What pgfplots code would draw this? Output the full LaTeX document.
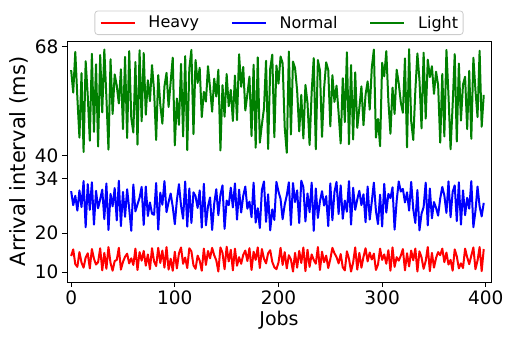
\documentclass[border=0pt]{standalone}
\usepackage{pgfplots}
\pgfplotsset{compat=1.18}
\usepackage{fontspec}
\setmainfont{DejaVu Sans}
\pgfplotsset{legend image code/.code={\draw[#1, line width=1.6pt] (0pt,0pt) -- (34pt,0pt);}}
\begin{document}
\begin{tikzpicture}
\useasboundingbox (-67pt,-55pt) rectangle (439pt,282pt);
\begin{axis}[
 scale only axis, width=424pt, height=241pt,
 at={(0pt,0pt)}, anchor=south west,
 xmin=-4, xmax=405, ymin=7.4, ymax=69.5,
 xtick={0,100,200,300,400}, ytick={10,20,34,40,68},
 tick align=outside, tick pos=left, major tick length=5pt,
 tick style={black, line width=0.8pt},
 ticklabel style={font=\fontsize{18.5}{18.5}\selectfont},
 /pgf/number format/assume math mode=true,
 xlabel={Jobs}, ylabel={Arrival interval (ms)},
 xlabel style={font=\fontsize{19}{19}\selectfont},
 ylabel style={font=\fontsize{21}{21}\selectfont},
 legend columns=3,
 legend style={at={(0.5,1)}, anchor=south, yshift=6pt, font=\fontsize{16}{16}\selectfont,
   draw=black!20, line width=0.8pt, rounded corners=3pt, inner xsep=5pt, inner ysep=5pt,
   nodes={inner sep=0pt},
   /tikz/every odd column/.append style={column sep=13pt},
   /tikz/every even column/.append style={column sep=32pt}},
 every axis plot/.append style={line width=2pt, line join=round},
 axis line style={line width=0.8pt}
]
\addplot[red] coordinates {
(0,14.1) (2,15.8) (4,12.0) (6,11.3) (8,15.1) (10,12.4) (12,11.1) (14,13.7) (16,14.8) (18,10.9)
(20,15.9) (22,13.4) (24,11.9) (26,12.5) (28,16.1) (30,10.4) (32,14.9) (34,10.8) (36,16.4) (38,12.3)
(40,10.3) (42,12.8) (44,13.1) (46,16.2) (48,10.6) (50,12.6) (52,13.9) (54,14.7) (56,12.2) (58,13.5)
(60,11.8) (62,16.0) (64,10.5) (66,15.1) (68,12.9) (70,15.4) (72,11.6) (74,14.5) (76,10.7) (78,16.1)
(80,12.7) (82,11.5) (84,16.2) (86,12.3) (88,15.5) (90,11.1) (92,16.4) (94,10.6) (96,13.4) (98,10.3)
(100,15.2) (102,10.9) (104,14.8) (106,16.3) (108,12.1) (110,13.7) (112,11.0) (114,16.1) (116,15.3) (118,11.7)
(120,10.8) (122,14.2) (124,12.9) (126,10.3) (128,16.0) (130,11.8) (132,15.4) (134,13.5) (136,16.2) (138,14.3)
(140,13.0) (142,10.1) (144,16.3) (146,14.9) (148,10.7) (150,16.5) (152,12.7) (154,15.7) (156,10.4) (158,16.0)
(160,11.6) (162,13.8) (164,12.1) (166,14.4) (168,15.5) (170,12.8) (172,16.1) (174,10.5) (176,15.2) (178,13.1)
(180,16.3) (182,11.0) (184,15.9) (186,13.4) (188,12.2) (190,14.8) (192,15.6) (194,12.6) (196,11.2) (198,10.7)
(200,12.4) (202,16.2) (204,11.8) (206,15.1) (208,10.9) (210,14.3) (212,13.2) (214,10.1) (216,14.9) (218,11.1)
(220,15.4) (222,12.3) (224,16.3) (226,10.2) (228,15.7) (230,11.3) (232,14.5) (234,13.1) (236,12.1) (238,16.4)
(240,10.5) (242,15.2) (244,12.5) (246,14.2) (248,11.0) (250,13.3) (252,16.2) (254,14.8) (256,13.8) (258,12.2)
(260,14.6) (262,11.2) (264,10.4) (266,15.3) (268,13.4) (270,10.1) (272,12.4) (274,16.3) (276,10.6) (278,14.9)
(280,11.1) (282,13.9) (284,16.1) (286,12.7) (288,15.0) (290,13.2) (292,14.7) (294,10.5) (296,11.9) (298,16.0)
(300,13.1) (302,14.5) (304,12.1) (306,15.6) (308,10.3) (310,16.3) (312,11.3) (314,13.8) (316,12.9) (318,14.2)
(320,15.9) (322,10.4) (324,14.8) (326,11.4) (328,15.5) (330,13.0) (332,16.0) (334,10.1) (336,15.3) (338,13.7)
(340,10.8) (342,12.8) (344,16.4) (346,10.2) (348,14.9) (350,11.1) (352,13.6) (354,15.1) (356,14.3) (358,16.0)
(360,12.5) (362,15.0) (364,11.9) (366,13.1) (368,10.3) (370,15.8) (372,14.0) (374,10.9) (376,12.2) (378,11.0)
(380,16.0) (382,13.8) (384,12.0) (386,14.2) (388,16.3) (390,10.7) (392,12.9) (394,16.4) (396,10.2) (398,15.9)
};
\addlegendentry{Heavy}
\addplot[blue] coordinates {
(0,30.8) (2,27.2) (4,29.6) (6,25.8) (8,31.0) (10,26.7) (12,33.4) (14,21.5) (16,32.6) (18,26.0)
(20,33.1) (22,22.2) (24,30.9) (26,26.4) (28,28.7) (30,31.2) (32,23.6) (34,32.8) (36,20.8) (38,30.1)
(40,26.9) (42,31.6) (44,23.3) (46,33.5) (48,21.8) (50,30.6) (52,24.2) (54,31.3) (56,26.3) (58,20.6)
(60,32.5) (62,25.6) (64,27.4) (66,29.1) (68,31.9) (70,22.1) (72,32.0) (74,24.4) (76,27.9) (78,25.0)
(80,24.7) (82,32.9) (84,20.9) (86,30.4) (88,27.3) (90,33.4) (92,25.4) (94,28.0) (96,30.2) (98,26.8)
(100,22.3) (102,28.5) (104,32.6) (106,27.1) (108,23.7) (110,33.3) (112,21.7) (114,31.5) (116,22.6) (118,30.5)
(120,29.5) (122,26.5) (124,31.0) (126,21.4) (128,32.7) (130,22.0) (132,26.9) (134,29.2) (136,20.8) (138,27.6)
(140,31.3) (142,24.6) (144,29.9) (146,32.3) (148,21.1) (150,28.4) (152,27.2) (154,31.7) (156,26.6) (158,32.8)
(160,23.5) (162,31.2) (164,25.3) (166,29.6) (168,32.0) (170,26.3) (172,28.1) (174,24.1) (176,33.0) (178,22.7)
(180,26.4) (182,21.3) (184,31.1) (186,33.3) (188,22.9) (190,30.0) (192,20.7) (194,26.1) (196,23.4) (198,33.2)
(200,30.7) (202,28.8) (204,23.6) (206,27.3) (208,29.7) (210,33.1) (212,22.1) (214,32.9) (216,28.0) (218,31.0)
(220,22.6) (222,33.5) (224,31.8) (226,23.0) (228,30.2) (230,25.4) (232,33.0) (234,20.6) (236,31.5) (238,23.9)
(240,28.2) (242,30.8) (244,27.1) (246,29.5) (248,21.8) (250,32.8) (252,23.3) (254,30.6) (256,33.2) (258,24.9)
(260,32.3) (262,23.7) (264,28.4) (266,25.5) (268,33.4) (270,22.2) (272,31.7) (274,26.0) (276,28.7) (278,30.9)
(280,27.2) (282,30.0) (284,22.8) (286,32.0) (288,23.5) (290,28.1) (292,33.0) (294,25.7) (296,22.3) (298,29.9)
(300,21.7) (302,32.7) (304,25.3) (306,30.1) (308,29.0) (310,31.8) (312,20.9) (314,28.3) (316,33.3) (318,30.7)
(320,31.4) (322,27.9) (324,30.5) (326,25.8) (328,33.2) (330,26.2) (332,22.6) (334,31.1) (336,20.7) (338,25.0)
(340,26.7) (342,33.0) (344,22.0) (346,31.5) (348,23.8) (350,28.0) (352,26.5) (354,24.5) (356,28.9) (358,31.9)
(360,29.7) (362,25.2) (364,33.3) (366,24.1) (368,30.6) (370,32.3) (372,23.1) (374,33.1) (376,22.2) (378,31.0)
(380,24.6) (382,29.1) (384,26.3) (386,33.4) (388,21.5) (390,25.7) (392,32.0) (394,26.9) (396,24.3) (398,27.8)
};
\addlegendentry{Normal}
\addplot[green!50!black] coordinates {
(0,62.0) (2,56.2) (4,66.7) (6,54.9) (8,44.6) (10,61.2) (12,40.9) (14,64.3) (16,55.5) (18,43.8)
(20,66.2) (22,46.1) (24,63.5) (26,42.3) (28,65.9) (30,51.1) (32,67.3) (34,55.0) (36,41.5) (38,64.8)
(40,50.7) (42,60.9) (44,58.0) (46,53.4) (48,62.2) (50,46.8) (52,65.4) (54,44.5) (56,66.9) (58,49.7)
(60,45.9) (62,64.1) (64,42.8) (66,67.1) (68,48.8) (70,66.4) (72,50.5) (74,59.4) (76,54.0) (78,63.3)
(80,56.6) (82,44.0) (84,60.7) (86,53.1) (88,48.2) (90,57.8) (92,61.3) (94,52.5) (96,59.0) (98,65.2)
(100,42.6) (102,54.7) (104,47.9) (106,63.6) (108,44.9) (110,65.6) (112,41.4) (114,62.4) (116,67.2) (118,45.5)
(120,64.6) (122,58.7) (124,62.6) (126,49.9) (128,56.4) (130,53.9) (132,63.0) (134,57.4) (136,51.3) (138,59.8)
(140,55.2) (142,62.1) (144,41.3) (146,58.1) (148,50.0) (150,61.0) (152,52.7) (154,56.9) (156,48.9) (158,60.6)
(160,49.1) (162,66.1) (164,57.7) (166,62.8) (168,51.6) (170,55.8) (172,60.3) (174,45.0) (176,63.4) (178,42.0)
(180,65.3) (182,43.3) (184,48.0) (186,52.1) (188,64.4) (190,41.7) (192,62.3) (194,66.0) (196,44.7) (198,63.2)
(200,58.5) (202,65.5) (204,63.8) (206,47.3) (208,40.7) (210,66.8) (212,45.4) (214,64.2) (216,62.5) (218,56.7)
(220,46.2) (222,55.6) (224,44.4) (226,58.2) (228,53.5) (230,42.7) (232,56.3) (234,65.1) (236,41.6) (238,64.6)
(240,61.9) (242,44.8) (244,57.3) (246,64.0) (248,62.0) (250,47.5) (252,60.7) (254,53.8) (256,58.0) (258,50.9)
(260,43.1) (262,59.9) (264,48.6) (266,66.6) (268,42.9) (270,63.3) (272,44.1) (274,61.4) (276,47.1) (278,52.2)
(280,57.8) (282,47.8) (284,55.7) (286,59.1) (288,51.8) (290,62.6) (292,67.3) (294,44.6) (296,49.4) (298,42.4)
(300,63.9) (302,60.4) (304,66.9) (306,54.1) (308,45.6) (310,57.5) (312,50.7) (314,62.1) (316,58.6) (318,53.7)
(320,51.0) (322,65.0) (324,42.1) (326,67.4) (328,48.9) (330,44.0) (332,56.6) (334,66.3) (336,59.4) (338,47.0)
(340,66.5) (342,49.5) (344,64.7) (346,60.2) (348,63.0) (350,55.9) (352,61.6) (354,58.1) (356,43.3) (358,61.0)
(360,44.9) (362,67.2) (364,55.4) (366,41.6) (368,53.0) (370,66.1) (372,43.6) (374,63.7) (376,49.0) (378,58.3)
(380,60.3) (382,46.8) (384,61.8) (386,44.3) (388,65.2) (390,56.8) (392,49.9) (394,67.0) (396,47.4) (398,55.6)
};
\addlegendentry{Light}
\end{axis}
\end{tikzpicture}
\end{document}
